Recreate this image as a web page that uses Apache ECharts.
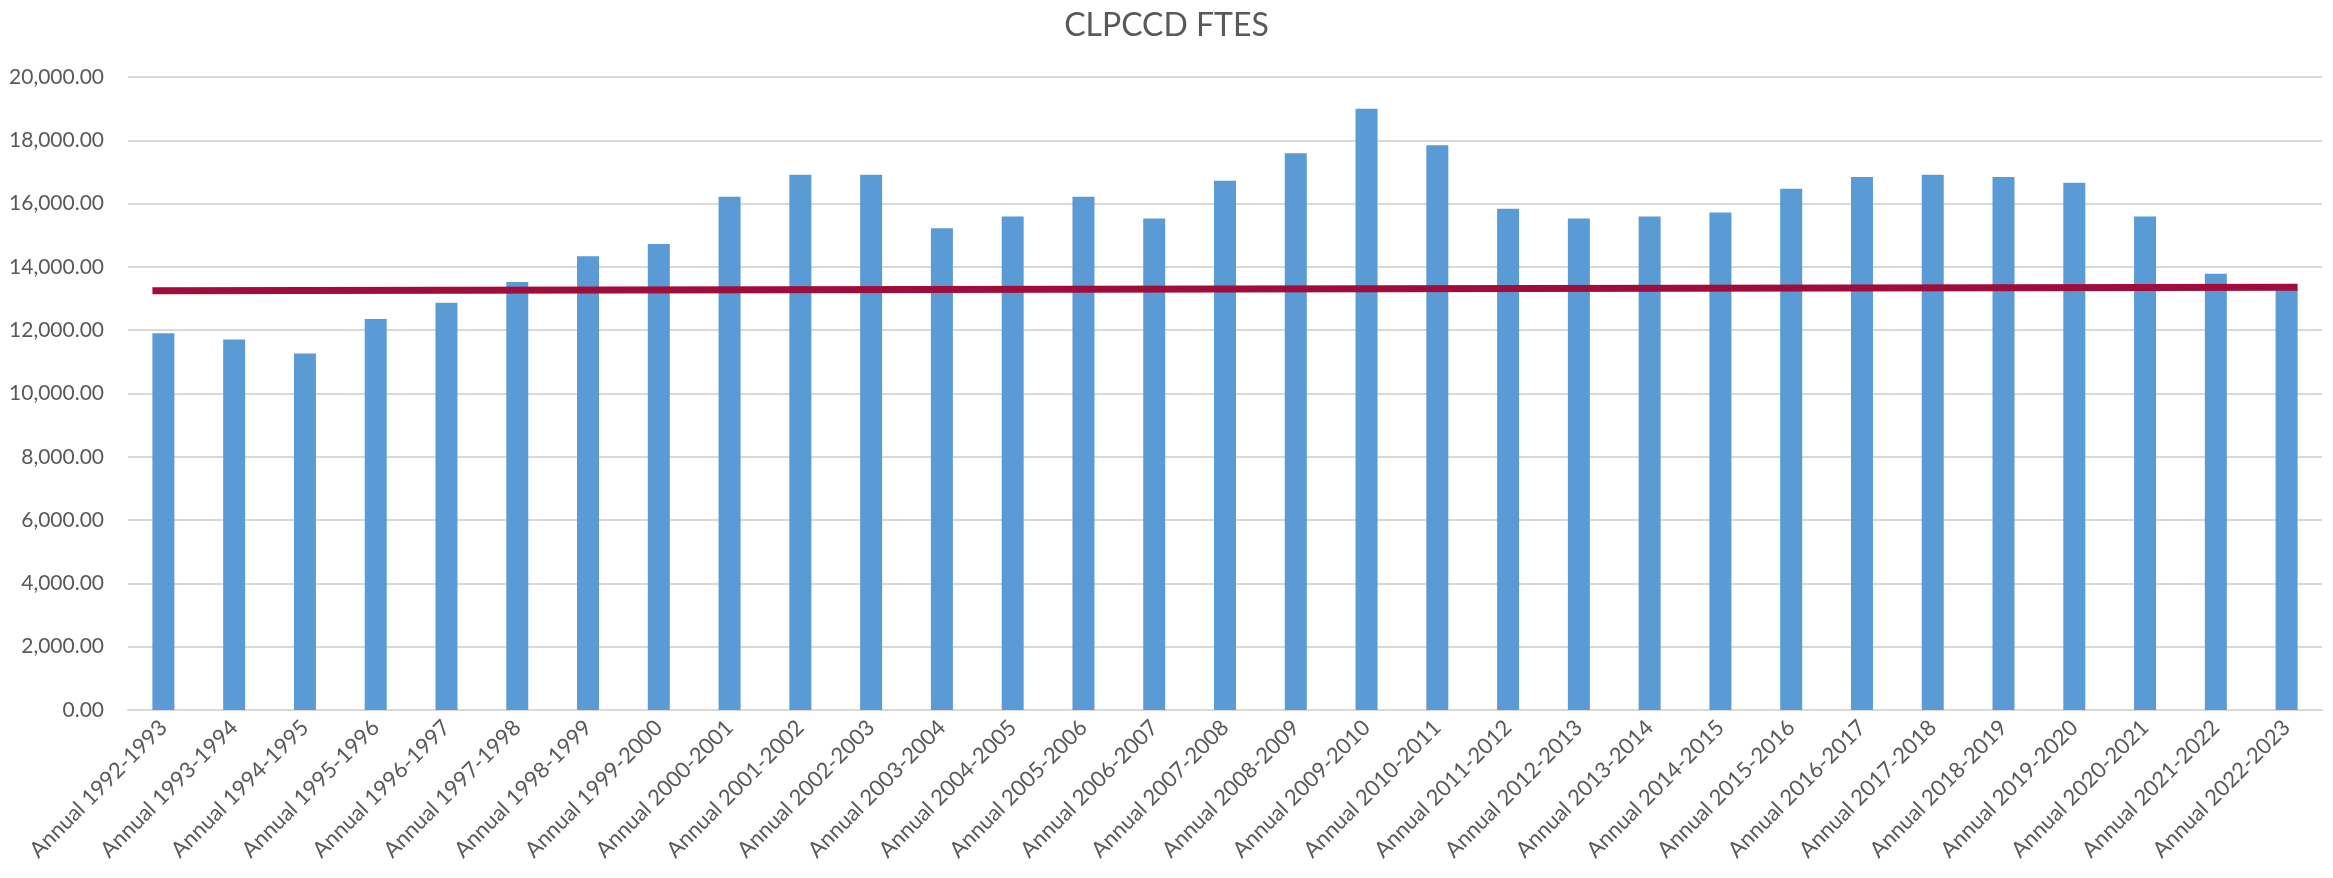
<!DOCTYPE html>
<html>
<head>
<meta charset="utf-8">
<title>CLPCCD FTES</title>
<script src="https://cdn.jsdelivr.net/npm/echarts@6/dist/echarts.min.js"></script>
<style>
  html, body { margin: 0; padding: 0; background: #fff; }
  #chart { width: 2333px; height: 878px; }
</style>
</head>
<body>
<div id="chart"></div>
<script>
const years = [
  "1992-1993", "1993-1994", "1994-1995", "1995-1996", "1996-1997", "1997-1998",
  "1998-1999", "1999-2000", "2000-2001", "2001-2002", "2002-2003", "2003-2004",
  "2004-2005", "2005-2006", "2006-2007", "2007-2008", "2008-2009", "2009-2010",
  "2010-2011", "2011-2012", "2012-2013", "2013-2014", "2014-2015", "2015-2016",
  "2016-2017", "2017-2018", "2018-2019", "2019-2020", "2020-2021", "2021-2022",
  "2022-2023"
];
const categories = years.map((y) => "Annual " + y);

const ftes = [
  11900, 11710, 11260, 12350, 12870, 13520,
  14340, 14720, 16220, 16910, 16910, 15220,
  15590, 16220, 15530, 16720, 17590, 19000,
  17840, 15840, 15530, 15590, 15720, 16470,
  16840, 16910, 16840, 16660, 15590, 13780,
  13300
];

// trend line: two end points, from the left edge of the first bar to the right edge of the last
const trendX = [-0.155, 30.155];
const trendY = [13250, 13360];

const yTicks = { min: 0, max: 20000, interval: 2000 };

const textColor = "#595959";
const font = "Lato, 'Liberation Sans', sans-serif";

const chart = echarts.init(document.getElementById("chart"), null, { renderer: "canvas" });
chart.setOption({
  animation: false,
  textStyle: { fontFamily: font, color: textColor },
  title: {
    text: "CLPCCD FTES",
    left: "center",
    top: 5,
    textStyle: { fontFamily: font, fontSize: 32, fontWeight: "normal", color: textColor }
  },
  grid: { left: 128, right: 11, top: 77, bottom: 168, containLabel: false },
  xAxis: [
    {
      type: "category",
      data: categories,
      axisLine: { lineStyle: { color: "#D9D9D9", width: 2 } },
      axisTick: { show: false },
      axisLabel: {
        rotate: 45,
        interval: 0,
        margin: 14,
        fontSize: 22,
        color: textColor,
        fontFamily: font
      }
    },
    {
      type: "value",
      min: -0.5,
      max: categories.length - 0.5,
      show: false
    }
  ],
  yAxis: {
    type: "value",
    min: yTicks.min,
    max: yTicks.max,
    interval: yTicks.interval,
    axisLine: { show: false },
    axisTick: { show: false },
    splitLine: { lineStyle: { color: "#D9D9D9", width: 2 } },
    axisLabel: {
      margin: 24,
      fontSize: 21,
      color: textColor,
      fontFamily: font,
      formatter: (v) => v.toLocaleString("en-US", { minimumFractionDigits: 2, maximumFractionDigits: 2 })
    }
  },
  series: [
    {
      name: "FTES",
      type: "bar",
      data: ftes,
      barWidth: 22,
      itemStyle: { color: "#5B9BD5" }
    },
    {
      name: "Trend",
      type: "line",
      xAxisIndex: 1,
      data: trendX.map((x, i) => [x, trendY[i]]),
      symbol: "none",
      lineStyle: { color: "#A00D3A", width: 7 },
      z: 5
    }
  ]
});
</script>
</body>
</html>
